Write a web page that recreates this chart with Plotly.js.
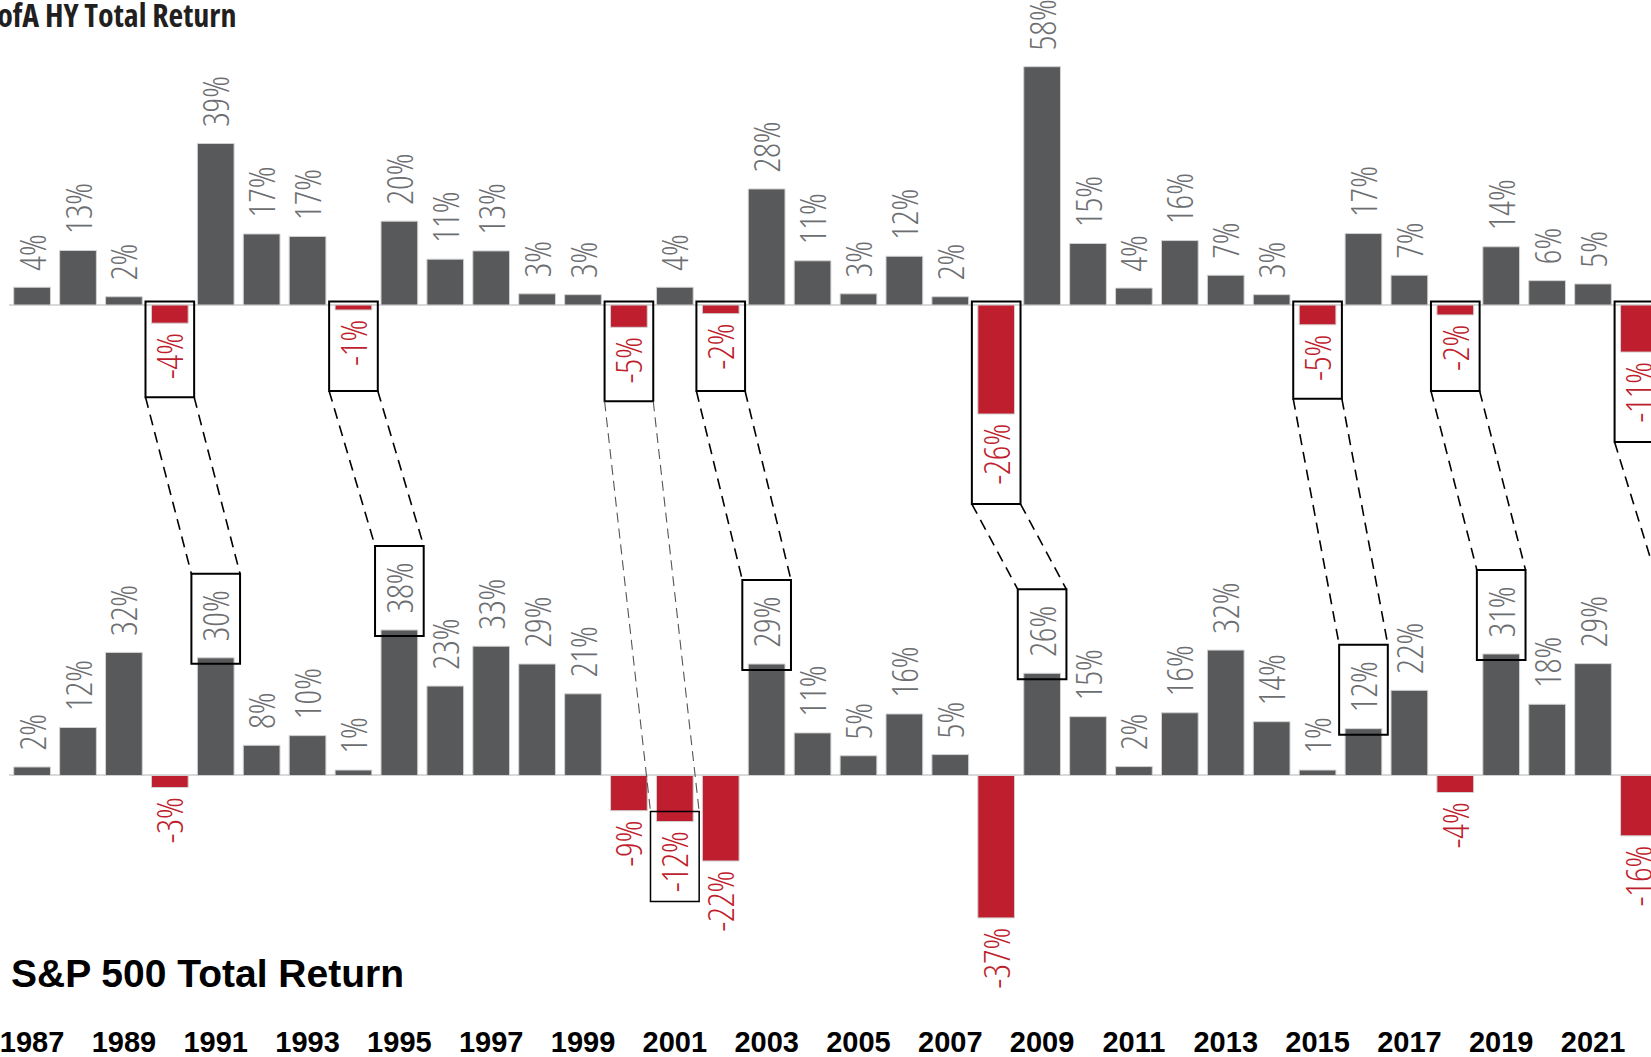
<!DOCTYPE html>
<html>
<head>
<meta charset="utf-8">
<script src="https://cdn.plot.ly/plotly-3.0.1.min.js"></script>
<style>
html,body{margin:0;padding:0;background:#fff;overflow:hidden;}
#chart{width:1651px;height:1057px;}
svg text{font-stretch:75%;}
</style>
</head>
<body>
<div id="chart"></div>
<script>
// ---------------- data ----------------
const years = [1987,1988,1989,1990,1991,1992,1993,1994,1995,1996,1997,1998,1999,2000,2001,2002,2003,2004,2005,2006,2007,2008,2009,2010,2011,2012,2013,2014,2015,2016,2017,2018,2019,2020,2021,2022];
const hyReturns = [4.3,13.2,2.0,-4.4,39.1,17.2,16.6,-1.2,20.3,11.1,13.1,2.7,2.5,-5.4,4.3,-2.1,28.1,10.7,2.7,11.8,2.0,-26.4,57.7,14.9,4.1,15.6,7.2,2.5,-4.8,17.3,7.2,-2.4,14.1,5.9,5.1,-11.4];
const spReturns = [2.2,12.4,31.8,-3.1,30.4,7.8,10.3,1.4,37.6,23.1,33.4,28.8,21.1,-9.1,-11.9,-22.1,28.8,11.0,5.1,15.9,5.4,-36.8,26.4,15.2,2.3,16.2,32.4,13.9,1.4,12.1,22.0,-4.4,31.4,18.4,28.9,-15.6];
// year after the last one, only used as the (off-screen) end of the last connector
const spNextYear = 2023;
const spNextReturn = 26;
const tickYears = [1987,1989,1991,1993,1995,1997,1999,2001,2003,2005,2007,2009,2011,2013,2015,2017,2019,2021];
const tickLabels = ["1987","1989","1991","1993","1995","1997","1999","2001","2003","2005","2007","2009","2011","2013","2015","2017","2019","2021"];
// HY down year -> following S&P year that is highlighted
const hyDownYears = [1990,1994,2000,2002,2008,2015,2018,2022];
const spHighlightYears = [1991,1995,2001,2003,2009,2016,2019,2023];
const faintPairs = [2000];
const hyTitle = "ICE BofA HY Total Return";
const spTitle = "S&amp;P 500 Total Return";

// ---------------- styles / geometry ----------------
const W = 1651, H = 1057;
const GRAY = '#58595b', RED = '#be1e2d', LABEL_GRAY = '#6d6e71';
const HY = {dom:[0.49858, 1], rng:[-54.48, 73.85]};
const SP = {dom:[0.033113, 0.48912], rng:[-63.70, 60.85]};
const XR = [1986.497, 2022.263];
const HALF = 0.53;

function pct(v){ return Math.round(v) + '%'; }
function label(v){ return v < 0 ? pct(v) + '\u00A0' : '\u00A0\u00A0' + pct(v); }
function yToPx(ax, v){
  const top = (1 - ax.dom[1]) * H, bot = (1 - ax.dom[0]) * H;
  return bot - (v - ax.rng[0]) / (ax.rng[1] - ax.rng[0]) * (bot - top);
}
function pxToPaper(px){ return 1 - px / H; }

function barTrace(vals, yaxis){
  return {
    type:'bar', x: years, y: vals, xaxis:'x', yaxis: yaxis,
    marker:{color: vals.map(v => v < 0 ? RED : GRAY), line:{color:'#d2d2d2', width:1}},
    text: vals.map(label), textposition:'outside', textangle:-90,
    textfont:{family:'Open Sans', size:36, weight:300, color: vals.map(v => v < 0 ? RED : LABEL_GRAY)},
    constraintext:'none', cliponaxis:false, hoverinfo:'skip'
  };
}

const shapes = [];
hyDownYears.forEach((hyY, i) => {
  const spY = spHighlightYears[i];
  const hv = hyReturns[years.indexOf(hyY)];
  const si = years.indexOf(spY);
  const sv = si >= 0 ? spReturns[si] : spNextReturn;
  const faint = faintPairs.includes(hyY);

  const hyZero = yToPx(HY, 0);
  const hyEnd = yToPx(HY, hv);
  const hyTop = hyZero - 3.5;
  const hyBot = Math.max(hyZero + 86, hyEnd + 16 * pct(hv).length + 26);

  const spEnd = yToPx(SP, sv);
  let spTop, spBot;
  if (sv >= 0) { spBot = spEnd + 6; spTop = spBot - 90; }
  else { spTop = spEnd - 10; spBot = spTop + 90; }

  const boxLine = {color:'#000', width: faint ? 1.5 : 2};
  shapes.push({type:'rect', xref:'x', yref:'paper', x0: hyY - HALF, x1: hyY + HALF,
    y0: pxToPaper(hyTop), y1: pxToPaper(hyBot), line: {color:'#000', width:2}, fillcolor:'rgba(0,0,0,0)', layer:'above'});
  shapes.push({type:'rect', xref:'x', yref:'paper', x0: spY - HALF, x1: spY + HALF,
    y0: pxToPaper(spTop), y1: pxToPaper(spBot), line: boxLine, fillcolor:'rgba(0,0,0,0)', layer:'above'});
  const dl = faint ? {color:'#555', width:1.1, dash:'10px,6px'} : {color:'#000', width:1.6, dash:'11px,7px'};
  [-HALF, HALF].forEach(d => {
    shapes.push({type:'line', xref:'x', yref:'paper', x0: hyY + d, x1: spY + d,
      y0: pxToPaper(hyBot), y1: pxToPaper(spTop), line: dl, layer:'above'});
  });
});

const layout = {
  width: W, height: H,
  margin:{l:9, r:0, t:0, b:0, pad:0},
  paper_bgcolor:'#ffffff', plot_bgcolor:'rgba(0,0,0,0)',
  showlegend:false, bargap:0.2,
  xaxis:{range: XR, anchor:'y2', tickmode:'array', tickvals: tickYears, ticktext: tickLabels,
    ticks:'', showline:false, showgrid:false, zeroline:false, automargin:false, fixedrange:true,
    ticklabeloverflow:'allow',
    tickfont:{family:'Liberation Sans, Arial, sans-serif', size:29, color:'#000', weight:'bold'}},
  yaxis:{domain: HY.dom, range: HY.rng, showticklabels:false, ticks:'', showgrid:false, showline:false,
    zeroline:true, zerolinecolor:'#d9d9d9', zerolinewidth:2, fixedrange:true},
  yaxis2:{domain: SP.dom, range: SP.rng, showticklabels:false, ticks:'', showgrid:false, showline:false,
    zeroline:true, zerolinecolor:'#d9d9d9', zerolinewidth:2, fixedrange:true},
  shapes: shapes,
  annotations:[
    {text: hyTitle, xref:'paper', yref:'paper', x:(238 - 9) / 1642, y:1, xanchor:'right', yanchor:'top',
      yshift:9, showarrow:false, font:{family:'Open Sans', size:32, weight:700, color:'#231f20'}},
    {text: spTitle, xref:'paper', yref:'paper', x:(9 - 9) / 1642, y: pxToPaper(973), xanchor:'left', yanchor:'middle',
      showarrow:false, font:{family:'Liberation Sans, Arial, sans-serif', size:39, weight:'bold', color:'#000'}}
  ]
};

Plotly.newPlot('chart', [barTrace(hyReturns, 'y'), barTrace(spReturns, 'y2')], layout, {displayModeBar:false, staticPlot:true});
</script>
</body>
</html>
